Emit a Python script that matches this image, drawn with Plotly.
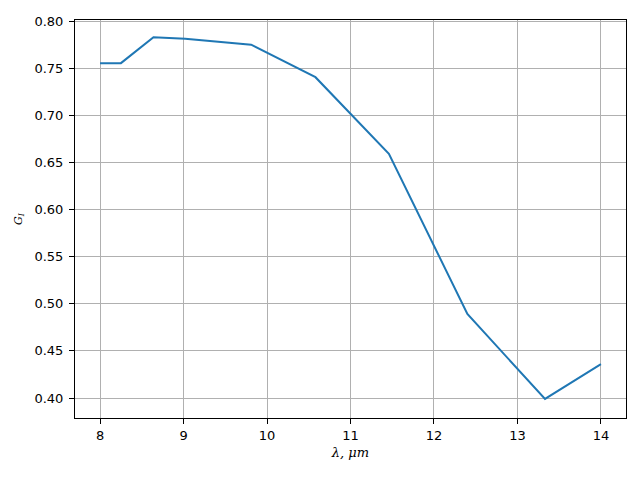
import plotly.graph_objects as go

wavelength = [8.0, 8.25, 8.64, 9.02, 9.81, 10.58, 11.46, 12.40, 13.33, 14.0]
g_values = [0.7554, 0.7554, 0.7830, 0.7813, 0.7750, 0.7405, 0.6592, 0.4892, 0.3990, 0.4360]
x_ticks = [8, 9, 10, 11, 12, 13, 14]
y_ticks = [0.40, 0.45, 0.50, 0.55, 0.60, 0.65, 0.70, 0.75, 0.80]

fig = go.Figure()
fig.add_trace(go.Scatter(x=wavelength, y=g_values, mode="lines",
                         line=dict(color="#1f77b4", width=2), showlegend=False))

axis_common = dict(showline=True, linecolor="black", linewidth=1, mirror=True,
                   ticks="outside", ticklen=5, tickcolor="black", tickwidth=1,
                   showgrid=True, gridcolor="#b0b0b0", gridwidth=1, zeroline=False,
                   automargin=False,
                   tickfont=dict(family="DejaVu Sans", size=13, color="black"))

fig.update_xaxes(range=[7.7, 14.3], tickvals=x_ticks,
                 ticktext=[str(v) for v in x_ticks],
                 title=dict(text="<i>λ, μm</i>", font=dict(family="DejaVu Serif", size=13, color="black"), standoff=6),
                 **axis_common)
fig.update_yaxes(range=[0.3788, 0.8012], tickvals=y_ticks,
                 ticktext=[f"{v:.2f}" for v in y_ticks],
                 ticklabelstandoff=3,
                 title=dict(text="<i>G<sub>I</sub></i>", font=dict(family="DejaVu Serif", size=11, color="black"), standoff=9),
                 **axis_common)

# page body has an 8px default margin, so margins are offset to compensate
fig.update_layout(width=640, height=480, margin=dict(l=67, r=22, t=12, b=70),
                  plot_bgcolor="white", paper_bgcolor="white")

fig.write_html("out.html")
